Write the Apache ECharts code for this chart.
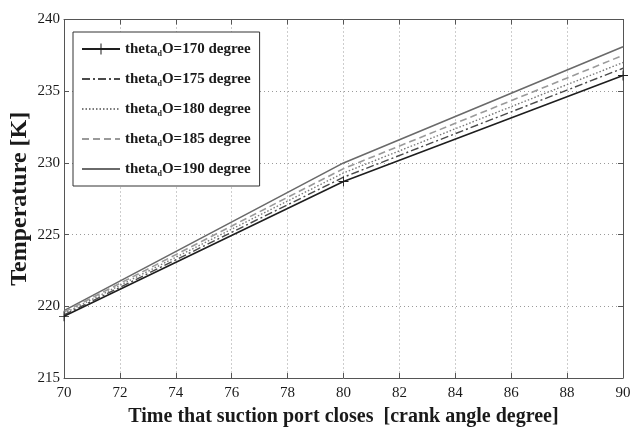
<!DOCTYPE html>
<html>
<head>
<meta charset="utf-8">
<script src="https://cdn.jsdelivr.net/npm/echarts@6/dist/echarts.min.js"></script>
<style>
  html, body { margin: 0; padding: 0; background: #fff; }
  #chart { width: 631px; height: 428px; }
</style>
</head>
<body>
<div id="chart"></div>
<script>
// Crank angle at which the suction port closes
const crankAngles = [70, 80, 90];

// Temperature [K] for each discharge-opening angle theta_dO
const temp170 = [219.3, 228.7, 236.1];
const temp175 = [219.4, 229.0, 236.6];
const temp180 = [219.5, 229.3, 237.0];
const temp185 = [219.6, 229.6, 237.5];
const temp190 = [219.7, 230.0, 238.1];

const openAngles = [170, 175, 180, 185, 190];

const xTicks = { min: 70, max: 90, step: 2 };
const yTicks = { min: 215, max: 240, step: 5 };

const serif = '"Liberation Serif", "DejaVu Serif", serif';

function pairs(ys) {
  return crankAngles.map((x, i) => [x, ys[i]]);
}

const crossSymbol = 'path://M-1,-0.09 L1,-0.09 L1,0.09 L-1,0.09 Z M-0.09,-1 L0.09,-1 L0.09,1 L-0.09,1 Z';

const seriesDefs = [
  { v: 170, data: temp170, color: '#1e1e1e', type: 'solid', width: 1.6, symbol: crossSymbol },
  { v: 175, data: temp175, color: '#4a4a4a', type: [8, 3, 2, 3], width: 1.4, symbol: 'none' },
  { v: 180, data: temp180, color: '#7a7a7a', type: [1.5, 2], width: 1.4, symbol: 'none' },
  { v: 185, data: temp185, color: '#9a9a9a', type: [7, 4], width: 1.6, symbol: 'none' },
  { v: 190, data: temp190, color: '#6a6a6a', type: 'solid', width: 1.6, symbol: 'none' }
];

const nameOf = v => 'theta_dO=' + v + ' degree';

const chart = echarts.init(document.getElementById('chart'), null, { renderer: 'canvas' });

const axisLine = { show: true, lineStyle: { color: '#555', width: 1 } };
const tickIn = { show: true, inside: true, length: 5, lineStyle: { color: '#555' } };
const gridDots = { show: true, lineStyle: { color: '#9a9a9a', type: [1, 3], width: 1 } };

chart.setOption({
  animation: false,
  backgroundColor: '#fff',
  grid: { left: 64, right: 8, top: 19.5, bottom: 50, containLabel: false, outerBoundsMode: 'none' },
  legend: {
    orient: 'vertical',
    left: 73,
    top: 32,
    padding: [8, 9, 8, 8],
    itemWidth: 38,
    itemHeight: 14,
    itemGap: 12,
    backgroundColor: '#fff',
    borderColor: '#333',
    borderWidth: 1,
    data: seriesDefs.map(d => ({
      name: nameOf(d.v),
      itemStyle: d.symbol === 'none' ? { opacity: 0 } : {}
    })),
    formatter: function (name) {
      const v = name.match(/=(\d+)/)[1];
      return '{t|theta}{s|d}{t|O=' + v + ' degree}';
    },
    textStyle: {
      rich: {
        t: { fontFamily: serif, fontWeight: 'bold', fontSize: 15, color: '#1a1a1a', lineHeight: 18 },
        s: { fontFamily: serif, fontWeight: 'bold', fontSize: 8, color: '#1a1a1a', lineHeight: 18, padding: [10, 0, 0, 0] }
      }
    }
  },
  xAxis: [
    {
      type: 'value', min: xTicks.min, max: xTicks.max, interval: xTicks.step,
      name: 'Time that suction port closes  [crank angle degree]',
      nameLocation: 'middle', nameGap: 29,
      nameTextStyle: { fontFamily: serif, fontWeight: 'bold', fontSize: 20, color: '#1a1a1a' },
      axisLine: axisLine, axisTick: tickIn, splitLine: gridDots,
      axisLabel: { fontFamily: serif, fontSize: 15, color: '#1a1a1a', margin: 8 }
    },
    {
      type: 'value', position: 'top', min: xTicks.min, max: xTicks.max, interval: xTicks.step,
      axisLine: axisLine, axisTick: tickIn, splitLine: { show: false }, axisLabel: { show: false }
    }
  ],
  yAxis: [
    {
      type: 'value', min: yTicks.min, max: yTicks.max, interval: yTicks.step,
      name: 'Temperature [K]',
      nameLocation: 'middle', nameGap: 32, nameRotate: 90, nameMoveOverlap: false,
      nameTextStyle: { fontFamily: serif, fontWeight: 'bold', fontSize: 24, color: '#1a1a1a' },
      axisLine: axisLine, axisTick: tickIn, splitLine: gridDots,
      axisLabel: { fontFamily: serif, fontSize: 15, color: '#1a1a1a', margin: 4 }
    },
    {
      type: 'value', position: 'right', min: yTicks.min, max: yTicks.max, interval: yTicks.step,
      axisLine: axisLine, axisTick: tickIn, splitLine: { show: false }, axisLabel: { show: false }
    }
  ],
  series: seriesDefs.map((d, i) => ({
    name: nameOf(d.v),
    type: 'line',
    data: pairs(d.data),
    xAxisIndex: 0,
    yAxisIndex: 0,
    symbol: d.symbol,
    symbolSize: 10,
    showSymbol: d.symbol !== 'none',
    itemStyle: { color: d.color },
    lineStyle: { color: d.color, width: d.width, type: d.type },
    z: 10 - i
  }))
});
</script>
</body>
</html>
